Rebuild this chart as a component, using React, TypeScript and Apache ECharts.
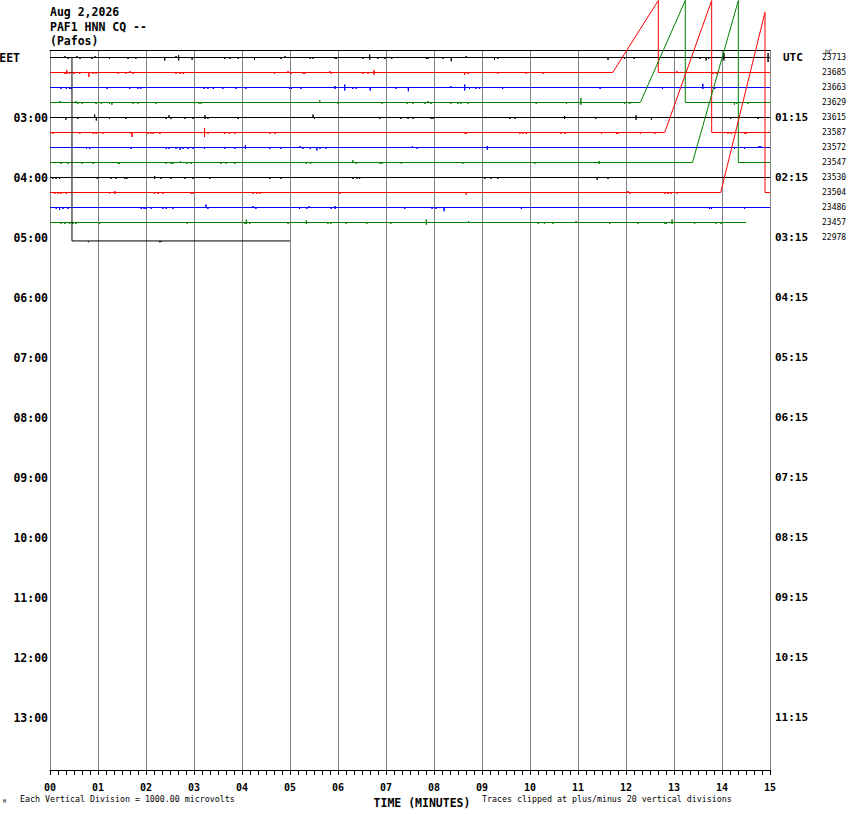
import React, { useEffect, useRef } from 'react';
import * as echarts from 'echarts';

// helicorder: 15 minute lines, 13 traces
const MONO = '"DejaVu Sans Mono", monospace';

const minuteLabels = ['00', '01', '02', '03', '04', '05', '06', '07', '08', '09', '10', '11', '12', '13', '14', '15'];
const eetLabels = ['EET', '03:00', '04:00', '05:00', '06:00', '07:00', '08:00', '09:00', '10:00', '11:00', '12:00', '13:00'];
const utcLabels = ['UTC', '01:15', '02:15', '03:15', '04:15', '05:15', '06:15', '07:15', '08:15', '09:15', '10:15', '11:15'];
const dcValues = [23713, 23685, 23663, 23629, 23615, 23587, 23572, 23547, 23530, 23504, 23486, 23457, 22978];
const traceColors = ['#000000', '#ff0000', '#0000ff', '#008000'];

// trace baseline (row units), start / end minute
const traceBase = [0, 1, 2, 3, 4, 5, 6, 7, 8, 9, 10, 11, 12.23];
const traceStart = [0, 0, 0, 0, 0, 0, 0, 0, 0, 0, 0, 0, 0.458];
const traceStartLevel: Array<number | null> = [null, null, null, null, null, null, null, null, null, null, null, null, 0];
const traceEnd = [15, 15, 15, 15, 15, 15, 15, 15, 15, 15, 15, 14.506, 5.0];

// drifting ramps that run off the top of the page
const rampRows = [1, 3, 5, 7, 9];
const rampStart = [11.723, 12.298, 12.806, 13.385, 13.973];
const rampEnd = [12.673, 13.235, 13.785, 14.34, 14.896];
const rampPeak = [-3.8, -3.8, -3.8, -3.8, -3.02];

// spikes: [minute, deflection, second deflection?] in row units, negative = up
const spikes0 = [[0.31, -0.1], [0.375, 0.1], [0.56, -0.1], [0.625, 0.1], [0.875, 0.1], [0.94, -0.1], [1.24, 0.1], [1.625, 0.1], [1.79, 0.1], [2.39, 0.2], [2.625, -0.1], [2.68, -0.15, 0.2], [2.96, 0.15], [3.64, 0.1], [3.75, 0.1], [3.92, 0.1], [4.26, 0.15], [4.81, 0.1], [4.9, -0.1], [5.42, 0.1], [5.48, 0.1], [5.94, 0.1], [5.97, 0.1], [6.52, 0.1], [6.66, -0.2, 0.15], [6.83, 0.1], [6.98, 0.1], [7.12, 0.1], [7.84, 0.1], [7.875, 0.1], [8.19, 0.1], [8.36, 0.25], [8.67, -0.1], [9.26, 0.15], [9.33, 0.1], [11.625, 0.15], [11.97, 0.1], [12.17, 0.1], [13.54, 0.1], [13.67, 0.2], [13.72, 0.1], [14.04, -0.3, 0.2], [14.96, -0.3, 0.3]];
const spikes1 = [[0.31, 0.1], [0.35, -0.15, 0.1], [0.41, 0.1], [0.5, 0.1], [0.62, 0.1], [0.81, 0.3], [0.9, 0.1], [0.96, 0.1], [1.42, 0.1], [1.58, 0.1], [1.67, -0.1], [1.73, 0.1], [2.625, 0.1], [2.71, 0.1], [2.77, 0.1], [4.68, 0.1], [4.96, -0.1], [5.02, 0.1], [5.27, 0.1], [5.31, 0.1], [5.83, -0.1], [5.86, 0.1], [6.52, 0.1], [6.625, 0.1], [6.75, -0.15, 0.15], [8.64, 0.15], [8.71, 0.1], [9.33, 0.1], [9.92, 0.1], [10.27, 0.1], [13.01, 0.1], [13.06, -0.1], [13.81, 0.1], [13.88, 0.1]];
const spikes2 = [[0.23, 0.1], [0.34, 0.1], [0.41, 0.1], [0.44, 0.1], [1.19, 0.1], [1.66, 0.1], [1.83, 0.1], [1.89, 0.1], [3.21, 0.1], [3.29, 0.1], [3.4, 0.1], [3.6, 0.1], [3.875, 0.1], [4.08, 0.1], [4.99, 0.1], [5.03, 0.1], [5.23, 0.1], [5.94, -0.1, 0.1], [6.14, -0.2, 0.2], [6.31, 0.1], [6.38, 0.1], [6.67, 0.2], [7.21, 0.1], [7.465, 0.25], [8.35, -0.1], [8.64, -0.2, 0.2], [8.74, 0.1], [8.875, 0.1], [8.95, 0.1], [9.43, 0.1], [11.46, 0.1], [12.76, 0.1], [13.6, -0.25, 0.1], [13.85, 0.1]];
const spikes3 = [[0.21, -0.1], [0.54, -0.1], [0.58, 0.1], [0.67, 0.1], [0.96, 0.1], [1.07, 0.1], [1.24, 0.1], [1.29, 0.15], [1.73, 0.1], [1.83, 0.1], [2.21, 0.1], [3.01, 0.1], [3.1, 0.1], [3.15, 0.1], [5.62, -0.15], [6.0, 0.1], [6.92, 0.1], [7.44, 0.1], [7.56, 0.1], [7.81, 0.1], [7.875, -0.1], [7.94, 0.1], [8.35, 0.1], [8.5, 0.1], [8.56, 0.1], [8.71, 0.1], [10.13, 0.1], [10.76, 0.1], [11.06, -0.3, 0.15], [11.97, 0.1], [12.08, 0.1], [14.26, 0.15], [14.3, 0.1], [14.54, 0.1]];
const spikes4 = [[0.33, 0.15], [0.58, 0.1], [0.93, -0.2], [0.965, 0.2], [1.24, 0.1], [1.58, 0.1], [2.42, 0.1], [2.48, -0.15], [2.52, 0.1], [2.81, 0.1], [2.98, 0.1], [3.23, -0.15, 0.1], [3.29, 0.1], [3.92, 0.1], [5.48, -0.2], [5.51, 0.1], [6.87, 0.1], [7.31, 0.1], [7.46, 0.1], [7.56, 0.1], [7.94, 0.1], [7.98, 0.1], [9.58, 0.1], [9.69, 0.1], [10.72, -0.1, 0.1], [11.37, 0.1], [12.21, -0.15, 0.15], [12.53, 0.15], [14.18, 0.1], [14.75, 0.1]];
const spikes5 = [[0.06, 0.1], [0.62, 0.1], [0.9, 0.1], [0.96, 0.1], [1.1, 0.1], [1.69, 0.1], [1.71, 0.3], [2.04, 0.1], [2.1, 0.1], [2.15, 0.1], [2.29, 0.1], [3.22, -0.3, 0.3], [3.29, 0.1], [3.64, 0.1], [3.74, 0.1], [3.85, 0.1], [4.58, 0.1], [4.69, 0.1], [8.65, 0.1], [8.67, 0.1], [9.79, 0.1], [9.85, 0.1], [9.92, 0.1], [10.65, 0.1], [10.73, 0.1], [11.49, 0.1], [11.8, 0.1], [11.83, 0.1], [12.3, 0.1], [12.6, 0.1], [14.125, 0.1], [14.19, 0.1], [14.48, 0.1], [14.5, 0.1]];
const spikes6 = [[0.76, 0.1], [0.83, 0.1], [1.69, 0.1], [2.42, 0.1], [2.48, 0.1], [2.625, 0.1], [2.71, 0.15], [2.77, 0.1], [2.875, 0.1], [2.98, 0.1], [3.22, 0.1], [3.64, 0.1], [3.85, 0.1], [4.07, -0.15, 0.1], [4.58, 0.1], [4.81, 0.1], [5.21, -0.1], [5.27, 0.1], [5.42, 0.1], [5.56, 0.2], [5.625, 0.1], [5.75, 0.1], [7.55, -0.1], [7.65, 0.1], [9.11, -0.1, 0.15], [14.26, 0.1], [14.47, 0.1], [14.77, -0.1], [14.81, -0.1]];
const spikes7 = [[0.23, 0.1], [0.375, 0.1], [0.67, 0.1], [0.9, 0.1], [1.42, 0.1], [1.45, 0.1], [2.42, 0.1], [2.52, 0.1], [2.56, 0.1], [2.72, -0.1], [2.85, 0.1], [2.94, 0.1], [3.56, 0.1], [3.67, 0.1], [3.85, 0.1], [5.34, 0.1], [5.43, 0.1], [6.31, -0.15], [6.38, 0.1], [6.875, 0.1], [6.92, 0.1], [7.32, 0.1], [8.6, 0.1], [10.1, 0.1], [11.44, -0.1, 0.1]];
const spikes8 = [[0.06, 0.1], [0.125, 0.1], [0.2, 0.1], [0.985, 0.1], [1.27, 0.1], [1.375, 0.1], [1.56, 0.1], [1.6, 0.1], [2.18, -0.1, 0.1], [2.31, 0.1], [2.52, 0.1], [2.81, 0.1], [2.98, 0.1], [3.33, 0.1], [4.58, 0.1], [4.81, 0.1], [6.31, 0.1], [6.4, 0.1], [6.45, 0.1], [9.06, 0.1], [9.19, 0.1], [9.33, 0.1], [11.4, 0.15], [11.625, 0.1]];
const spikes9 = [[0.1, 0.1], [0.17, 0.1], [0.23, 0.1], [0.34, 0.1], [1.24, 0.1], [1.35, -0.1, 0.1], [2.18, 0.1], [2.25, 0.1], [2.35, 0.1], [2.94, 0.1], [2.98, 0.1], [4.23, 0.1], [4.31, 0.1], [4.375, 0.1], [6.04, 0.1], [8.67, 0.15], [12.04, -0.1], [12.08, 0.1], [12.81, 0.1], [12.875, 0.1], [12.94, 0.1], [13.07, 0.1]];
const spikes10 = [[0.13, 0.1], [0.2, 0.15], [0.27, 0.1], [0.375, 0.1], [1.9, 0.1], [1.96, 0.1], [2.0, 0.1], [2.11, 0.1], [2.35, 0.1], [2.42, 0.1], [2.56, 0.1], [3.25, -0.2], [3.29, 0.1], [4.23, -0.1], [4.29, 0.1], [5.2, 0.1], [5.35, 0.1], [5.4, -0.1], [5.86, 0.1], [5.94, -0.1, 0.1], [7.39, 0.1], [7.96, 0.1], [8.04, 0.1], [8.21, 0.25], [9.82, 0.1], [13.74, 0.1], [13.78, 0.1], [14.47, 0.1]];
const spikes11 = [[0.23, 0.1], [0.31, 0.1], [0.41, 0.1], [0.48, 0.1], [0.54, 0.1], [1.035, 0.1], [2.86, 0.1], [4.06, 0.1], [4.09, -0.2, 0.1], [4.16, 0.1], [4.96, 0.1], [5.34, -0.15, 0.1], [5.79, 0.1], [5.85, 0.1], [6.17, 0.1], [6.6, 0.1], [7.1, 0.1], [7.84, -0.2, 0.15], [8.72, -0.1], [10.17, 0.1], [10.3, 0.1], [10.48, 0.1], [10.96, -0.1], [11.66, 0.1], [12.25, 0.1], [12.81, 0.1], [12.84, 0.1], [12.96, -0.2, 0.1], [13.43, 0.1], [13.88, 0.1], [13.98, 0.1]];
const spikes12 = [[0.8, 0.08], [2.28, 0.08], [2.31, 0.08]];

const allSpikes = [spikes0, spikes1, spikes2, spikes3, spikes4, spikes5, spikes6, spikes7, spikes8, spikes9, spikes10, spikes11, spikes12];

const buildTrace = (i: number): number[][] => {
    const base = traceBase[i];
    const pts: number[][] = [];
    const startLevel = traceStartLevel[i];
    if (startLevel !== null) pts.push([traceStart[i], startLevel]);
    pts.push([traceStart[i], base]);
    const events: Array<{ t: number; s?: number[]; r?: number }> = allSpikes[i].map(s => ({ t: s[0], s }));
    const r = rampRows.indexOf(i);
    if (r >= 0) events.push({ t: rampStart[r], r });
    events.sort((a, b) => a.t - b.t);
    events.forEach(e => {
        if (e.s) {
            pts.push([e.t, base], [e.t, base + e.s[1]]);
            if (e.s.length > 2) pts.push([e.t, base + e.s[2]]);
            pts.push([e.t, base]);
        } else if (e.r !== undefined) {
            pts.push([rampStart[e.r], base], [rampEnd[e.r], rampPeak[e.r]], [rampEnd[e.r], base]);
        }
    });
    pts.push([traceEnd[i], base]);
    return pts;
};

const Helicorder: React.FC = () => {
    const chartRef = useRef<HTMLDivElement>(null);

    useEffect(() => {
        if (!chartRef.current) return;
        const chart = echarts.init(chartRef.current, undefined, { renderer: 'svg' });

        const rowTicks = eetLabels.map((_, k) => k * 4);
        const dcTicks = dcValues.map((_, k) => k);

        chart.setOption({
            animation: false,
            title: [
                {
                    text: 'Aug 2,2026\nPAF1 HNN CQ --\n(Pafos)',
                    left: 50,
                    top: 5,
                    padding: 0,
                    textStyle: { fontFamily: MONO, fontWeight: 'bold', fontSize: 11.5, lineHeight: 14.5, color: '#000' },
                },
                {
                    text: 'Each Vertical Division = 1000.00 microvolts',
                    left: 20,
                    top: 795,
                    padding: 0,
                    textStyle: { fontFamily: MONO, fontWeight: 'normal', fontSize: 8.3, color: '#000' },
                },
                {
                    text: 'Traces clipped at plus/minus 20 vertical divisions',
                    left: 482,
                    top: 795,
                    padding: 0,
                    textStyle: { fontFamily: MONO, fontWeight: 'normal', fontSize: 8.3, color: '#000' },
                },
                {
                    text: 'DC',
                    left: 825,
                    top: 48,
                    padding: 0,
                    textStyle: { fontFamily: MONO, fontWeight: 'normal', fontSize: 6, color: '#000' },
                },
                {
                    text: 'M',
                    left: 3,
                    top: 798,
                    padding: 0,
                    textStyle: { fontFamily: MONO, fontWeight: 'normal', fontSize: 5, color: '#000' },
                },
            ],
            grid: { left: 50, right: 80, top: 50, bottom: 44, containLabel: false, outerBoundsMode: 'none' },
            xAxis: [
                {
                    type: 'value',
                    min: 0,
                    max: 15,
                    interval: 1,
                    position: 'bottom',
                    name: 'TIME (MINUTES)',
                    nameLocation: 'middle',
                    nameGap: 24,
                    nameTextStyle: {
                        fontFamily: MONO,
                        fontWeight: 'bold',
                        fontSize: 11.5,
                        color: '#000',
                        padding: [0, 0, 0, 24],
                    },
                    axisLine: { show: true, onZero: false, lineStyle: { color: '#000', width: 1 } },
                    axisTick: { show: true, length: 5, lineStyle: { color: '#000' } },
                    minorTick: { show: true, splitNumber: 6, length: 5, lineStyle: { color: '#000' } },
                    splitLine: { show: true, lineStyle: { color: '#808080', width: 1 } },
                    axisLabel: {
                        margin: 12,
                        fontFamily: MONO,
                        fontWeight: 'bold',
                        fontSize: 10,
                        color: '#000',
                        formatter: (v: number) => minuteLabels[Math.round(v)] ?? '',
                    },
                },
                {
                    type: 'value',
                    min: 0,
                    max: 15,
                    position: 'top',
                    axisLine: { show: true, onZero: false, lineStyle: { color: '#000', width: 1 } },
                    axisTick: { show: false },
                    minorTick: { show: false },
                    axisLabel: { show: false },
                    splitLine: { show: false },
                },
            ],
            yAxis: [
                {
                    type: 'value',
                    min: -0.5,
                    max: 47.5,
                    inverse: true,
                    position: 'left',
                    axisLine: { show: false, onZero: false },
                    axisTick: { show: false },
                    splitLine: { show: false },
                    axisLabel: {
                        customValues: rowTicks,
                        margin: 2,
                        fontFamily: MONO,
                        fontWeight: 'bold',
                        fontSize: 11.5,
                        color: '#000',
                        formatter: (v: number) => {
                            const k = Math.round(v / 4);
                            return k === 0 ? `{e|${eetLabels[0]}}` : eetLabels[k] ?? '';
                        },
                        rich: {
                            e: { fontFamily: MONO, fontWeight: 'bold', fontSize: 11.5, color: '#000', padding: [0, 28, 0, 0] },
                        },
                    },
                },
                {
                    type: 'value',
                    min: -0.5,
                    max: 47.5,
                    inverse: true,
                    position: 'right',
                    axisLine: { show: false, onZero: false },
                    axisTick: { show: false },
                    splitLine: { show: false },
                    axisLabel: {
                        customValues: rowTicks,
                        margin: 5,
                        fontFamily: MONO,
                        fontWeight: 'bold',
                        fontSize: 11,
                        color: '#000',
                        formatter: (v: number) => {
                            const k = Math.round(v / 4);
                            return k === 0 ? `{u|${utcLabels[0]}}` : utcLabels[k] ?? '';
                        },
                        rich: {
                            u: { fontFamily: MONO, fontWeight: 'bold', fontSize: 11, color: '#000', padding: [0, 0, 0, 8] },
                        },
                    },
                },
                {
                    type: 'value',
                    min: -0.5,
                    max: 47.5,
                    inverse: true,
                    position: 'right',
                    axisLine: { show: false, onZero: false },
                    axisTick: { show: false },
                    splitLine: { show: false },
                    axisLabel: {
                        customValues: dcTicks,
                        margin: 52,
                        fontFamily: MONO,
                        fontSize: 8,
                        color: '#000',
                        formatter: (v: number) => String(dcValues[Math.round(v)] ?? ''),
                    },
                },
            ],
            series: traceBase.map((_, i) => ({
                name: `trace${i}`,
                type: 'line',
                xAxisIndex: 0,
                yAxisIndex: 0,
                data: buildTrace(i),
                showSymbol: false,
                clip: false,
                silent: true,
                lineStyle: { color: traceColors[i % 4], width: 1 },
                itemStyle: { color: traceColors[i % 4] },
            })),
        });

        return () => chart.dispose();
    }, []);

    return (
        <div
            ref={chartRef}
            style={{ position: 'fixed', left: 0, top: 0, width: 850, height: 814, background: '#fff' }}
        />
    );
};

export default Helicorder;
